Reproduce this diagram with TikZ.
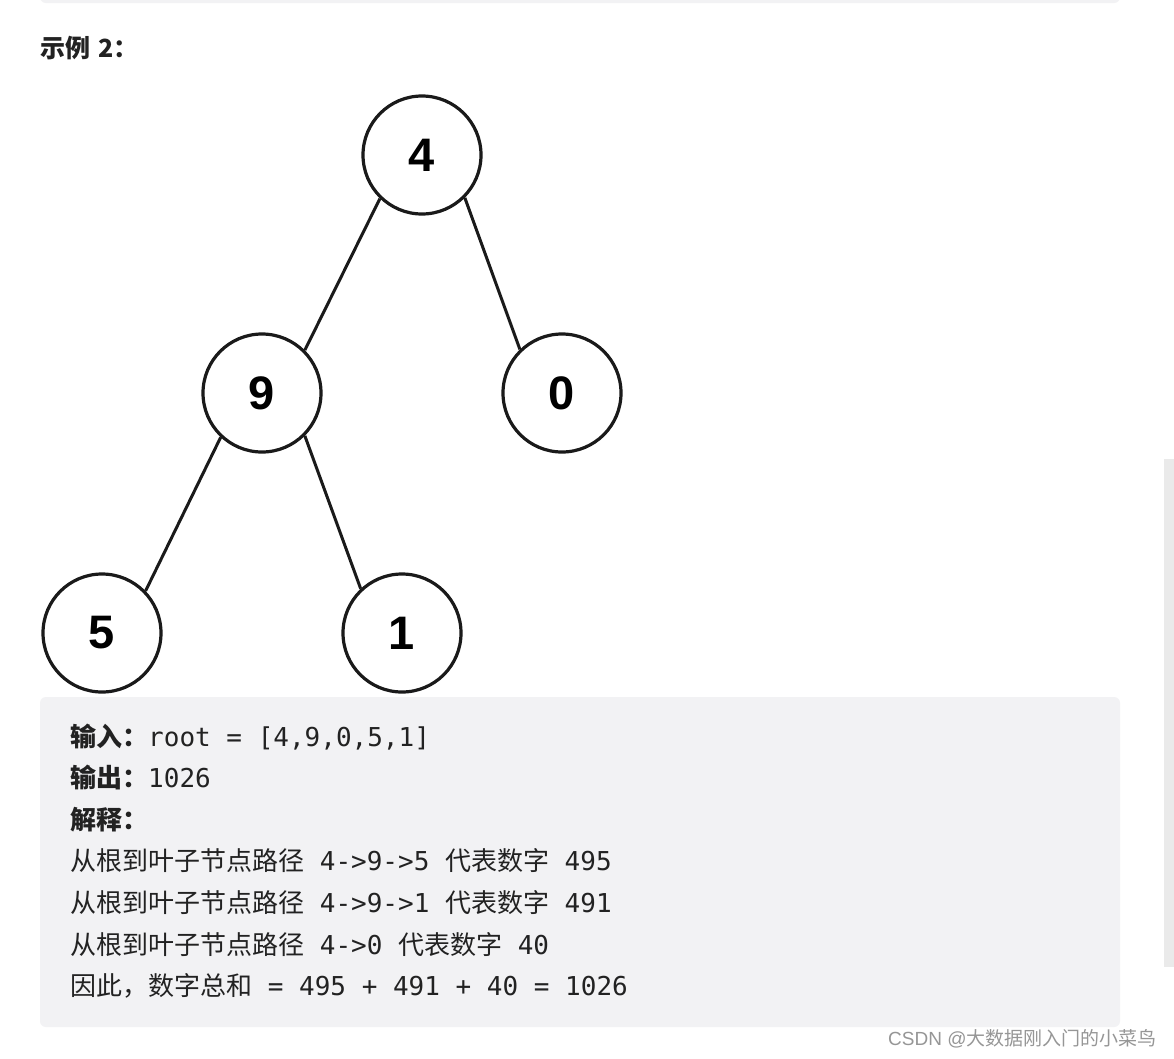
\documentclass[tikz,border=0pt]{standalone}
\usepackage{fontspec}
\setmainfont{Liberation Sans}
\newfontfamily\cjk{Noto Sans CJK SC}
\newfontfamily\codefont{DejaVu Sans Mono}
\definecolor{boxgray}{RGB}{242,242,244}
\definecolor{bargray}{RGB}{234,234,234}
\definecolor{inkblack}{RGB}{26,26,26}
\definecolor{textdark}{RGB}{34,34,34}
\definecolor{markgray}{RGB}{150,150,150}

\begin{document}
\begin{tikzpicture}[
    x=1pt, y=-1pt,
    treenode/.style={circle, draw=inkblack, line width=3.2pt, minimum size=118pt,
                     inner sep=0pt, font=\fontsize{47}{47}\selectfont\bfseries},
    edge/.style={draw=inkblack, line width=3pt},
    codeline/.style={anchor=base west, inner sep=0pt, text=textdark,
                     font=\fontsize{26}{30}\selectfont},
]
    \useasboundingbox (0,0) rectangle (1174,1058);
    \fill[white] (0,0) rectangle (1174,1058);
    \fill[boxgray, rounded corners=6pt] (40,-12) rectangle (1120,3);
    \fill[bargray] (1164,459) rectangle (1174,967);
    \fill[boxgray, rounded corners=6pt] (40,697) rectangle (1120,1027);

    \node[anchor=base west, inner sep=0pt, text=textdark,
          font=\fontsize{25}{28}\selectfont\cjk\bfseries] (title) at (40,57)
        {示例\hspace{8pt}2：};

    \node[treenode] (n4) at (422,155) {4};
    \node[treenode] (n9) at (262,393) {9};
    \node[treenode] (n0) at (562,393) {0};
    \node[treenode] (n5) at (102,633) {5};
    \node[treenode] (n1) at (402,633) {1};

    \draw[edge] (n4.-134) -- (n9.45);
    \draw[edge] (n4.-45) -- (n0.134);
    \draw[edge] (n9.-133) -- (n5.44);
    \draw[edge] (n9.-45) -- (n1.133);

    \node[codeline] (inLine) at (70,746)
        {{\cjk\bfseries 输入：}{\codefont root = [4,9,0,5,1]}};
    \node[codeline] (outLine) at (70,787)
        {{\cjk\bfseries 输出：}{\codefont 1026}};
    \node[codeline] (explLine) at (70,829)
        {{\cjk\bfseries 解释：}};
    \node[codeline] (pathA) at (70,870)
        {{\cjk 从根到叶子节点路径}{\codefont\ 4->9->5\ }{\cjk 代表数字}{\codefont\ 495}};
    \node[codeline] (pathB) at (70,912)
        {{\cjk 从根到叶子节点路径}{\codefont\ 4->9->1\ }{\cjk 代表数字}{\codefont\ 491}};
    \node[codeline] (pathC) at (70,954)
        {{\cjk 从根到叶子节点路径}{\codefont\ 4->0\ }{\cjk 代表数字}{\codefont\ 40}};
    \node[codeline] (sumLine) at (70,995)
        {{\cjk 因此，数字总和}{\codefont\ = 495 + 491 + 40 = 1026}};

    \node[anchor=base west, inner sep=0pt, text=markgray,
          font=\fontsize{19}{22}\selectfont] (watermark) at (888,1045)
        {CSDN @{\cjk 大数据刚入门的小菜鸟}};
\end{tikzpicture}
\end{document}
